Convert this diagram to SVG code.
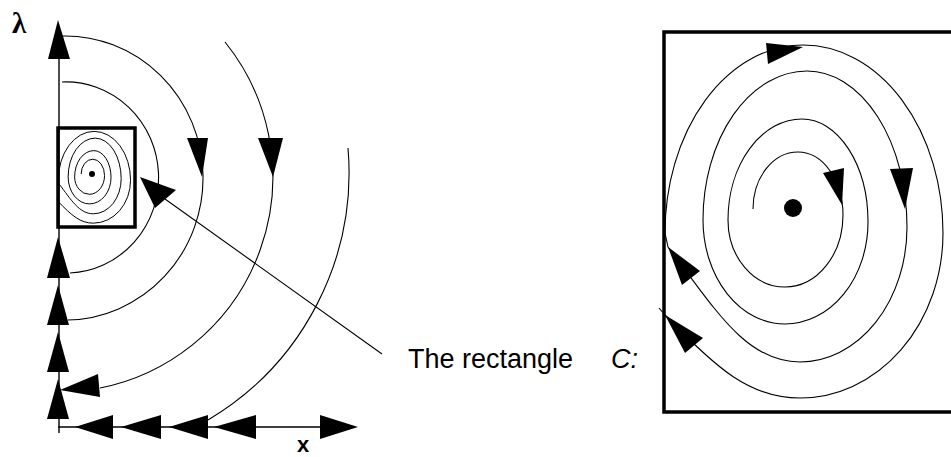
<svg xmlns="http://www.w3.org/2000/svg" xmlns:xlink="http://www.w3.org/1999/xlink" width="951" height="457" viewBox="0 0 951 457">
<style>
.ln{fill:none;stroke:#000;stroke-width:1.1}
.ax{fill:none;stroke:#000;stroke-width:1.4}
.ah{fill:#000;stroke:none}
.box{fill:none;stroke:#000;stroke-width:3.5}
.lbl{font-family:"Liberation Sans",Arial,sans-serif;fill:#000}
</style>
<defs>
<path id="spiral" d="M753 209 A45 57 0 0 1 798 152 A45 63 0 0 1 843 215 A58 72 0 0 1 785 287 A57 67 0 0 1 728 220 A74 101 0 0 1 802 119 A66 103 0 0 1 868 222 A83 102 0 0 1 785 324 A82 104 0 0 1 703 220 A104 149 0 0 1 807 71 A100 156 0 0 1 907 227 A107 135 0 0 1 800 362 C745 362 714 307 668 247 L665 233 A138 188 0 0 1 803 45 A140 188 0 0 1 943 233 A143 165 0 0 1 800 398 C750 398 717 369 665 315 L659 308"/>
</defs>
<rect width="951" height="457" fill="#fff"/>
<g id="axes">
<line class="ax" x1="59" y1="55" x2="59" y2="433"/>
<line class="ax" x1="58" y1="427" x2="322" y2="427"/>
</g>
<g id="connectors">
<path class="ln" d="M62 82 A92 95 0 0 1 70 273"/>
<path class="ln" d="M62 36 A138 142 0 0 1 68 320"/>
<path class="ln" d="M225 42 A215 215 0 0 1 100 388"/>
<path class="ln" d="M348 148 A288 288 0 0 1 208 420"/>
<line class="ln" x1="165" y1="199" x2="382" y2="354"/>
</g>
<g id="left-arrows">
<polygon class="ah" points="58,20 48,59 70,59"/>
<polygon class="ah" points="58,237 47,278 70,278"/>
<polygon class="ah" points="58,285 47,325 69,325"/>
<polygon class="ah" points="58,332 47,372 69,372"/>
<polygon class="ah" points="58,379 47,419 69,419"/>
<polygon class="ah" points="60,390 98,374 100,397"/>
<polygon class="ah" points="75,427 113,415 113,439"/>
<polygon class="ah" points="121,427 161,415 161,439"/>
<polygon class="ah" points="169,427 208,415 208,439"/>
<polygon class="ah" points="214,427 256,415 256,439"/>
<polygon class="ah" points="358,427 320,415 320,439"/>
<polygon class="ah" points="202,177 187,138 208,138"/>
<polygon class="ah" points="273,177 258,138 283,138"/>
<polygon class="ah" points="140,177 155,208 176,190"/>
</g>
<g id="small-rect">
<rect class="box" x="58" y="128" width="77" height="99" stroke-width="3"/>
<use xlink:href="#spiral" href="#spiral" fill="none" stroke="#000" stroke-width="3.8" transform="translate(58,128) scale(0.26) translate(-664,-32)"/>
<circle cx="92" cy="174" r="3" fill="#000"/>
</g>
<g id="big-rect">
<rect class="box" x="664" y="32" width="300" height="380"/>
<use xlink:href="#spiral" href="#spiral" fill="none" stroke="#000" stroke-width="1.1"/>
<circle cx="793" cy="208" r="9" fill="#000"/>
<polygon class="ah" points="842,205 823,173 844,168"/>
<polygon class="ah" points="905,209 890,169 913,168"/>
<polygon class="ah" points="803,47 766,43 768,64"/>
<polygon class="ah" points="668,247 682,285 700,271"/>
<polygon class="ah" points="665,315 685,353 703,338"/>
</g>
<g id="labels">
<text x="12" y="33" font-family="'Liberation Serif','Times New Roman',serif" font-size="29" font-weight="bold">λ</text>
<text class="lbl" x="297" y="452" font-size="22" font-weight="bold">x</text>
<text class="lbl" x="408" y="368" font-size="27">The rectangle</text>
<text class="lbl" x="611" y="368" font-size="27" font-style="italic">C:</text>
</g>
</svg>
